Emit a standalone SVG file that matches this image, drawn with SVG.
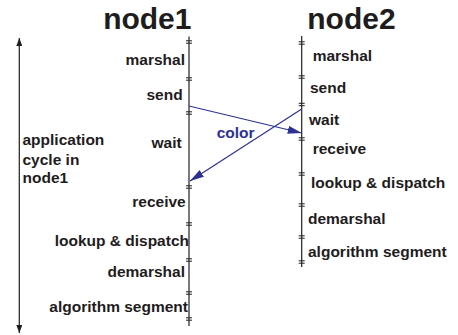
<svg xmlns="http://www.w3.org/2000/svg" width="458" height="335" viewBox="0 0 458 335">
<defs>
<style>
.t{font-family:"Liberation Sans",Arial,Helvetica,sans-serif;font-weight:bold;font-size:15.5px;fill:#1f1c1d}
.h{font-family:"Liberation Sans",Arial,Helvetica,sans-serif;font-weight:bold;font-size:30px;fill:#1f1c1d}
.c{font-family:"Liberation Sans",Arial,Helvetica,sans-serif;font-weight:bold;font-size:15.5px;fill:#2e3192}
.tl{stroke:#231f20;stroke-width:1.2;fill:none}
.tk{stroke:#231f20;stroke-width:1;fill:none}
.msg{stroke:#2e3192;stroke-width:1.2;fill:none;marker-end:url(#ab)}
</style>
<marker id="ab" viewBox="0 0 14 8" refX="14" refY="4" markerWidth="14" markerHeight="8" markerUnits="userSpaceOnUse" orient="auto">
<path d="M0,0 L14,4 L0,8 Z" fill="#2e3192"/>
</marker>
<marker id="ak" viewBox="0 0 8 6" refX="8" refY="3" markerWidth="8" markerHeight="6" markerUnits="userSpaceOnUse" orient="auto">
<path d="M0,0 L8,3 L0,6 Z" fill="#231f20"/>
</marker>
<g id="tick"><path class="tk" d="M-3,-1.2 H3 M-3,1.2 H3"/></g>
</defs>
<rect width="458" height="335" fill="#fff"/>

<g id="cycle">
<line x1="19.3" y1="185" x2="19.3" y2="38" style="stroke:#231f20;stroke-width:1.2;marker-end:url(#ak)"/>
<line x1="19.3" y1="185" x2="19.3" y2="333" style="stroke:#231f20;stroke-width:1.2;marker-end:url(#ak)"/>
<text class="t" x="22.5" y="145">application</text>
<text class="t" x="22.5" y="164.5">cycle in</text>
<text class="t" x="22.5" y="183">node1</text>
</g>

<g id="node1">
<text class="h" x="191.5" y="29.3" text-anchor="end">node1</text>
<line class="tl" x1="189" y1="36.5" x2="189" y2="326"/>
<use href="#tick" x="189" y="42"/>
<use href="#tick" x="189" y="79"/>
<use href="#tick" x="189" y="113"/>
<use href="#tick" x="189" y="187"/>
<use href="#tick" x="189" y="224"/>
<use href="#tick" x="189" y="260"/>
<use href="#tick" x="189" y="293"/>
<use href="#tick" x="189" y="319"/>
<text class="t" x="185" y="65" text-anchor="end">marshal</text>
<text class="t" x="182.7" y="100" text-anchor="end">send</text>
<text class="t" x="181.7" y="148.3" text-anchor="end">wait</text>
<text class="t" x="185.7" y="206.7" text-anchor="end">receive</text>
<text class="t" x="189" y="246" text-anchor="end">lookup &amp; dispatch</text>
<text class="t" x="185" y="276.7" text-anchor="end">demarshal</text>
<text class="t" x="188" y="311.7" text-anchor="end">algorithm segment</text>
</g>

<g id="node2">
<text class="h" x="307.3" y="29.3">node2</text>
<line class="tl" x1="301.7" y1="36" x2="301.7" y2="267"/>
<use href="#tick" x="301.7" y="43"/>
<use href="#tick" x="301.7" y="77"/>
<use href="#tick" x="301.7" y="104.5"/>
<use href="#tick" x="301.7" y="139"/>
<use href="#tick" x="301.7" y="174"/>
<use href="#tick" x="301.7" y="205"/>
<use href="#tick" x="301.7" y="237"/>
<use href="#tick" x="301.7" y="262"/>
<text class="t" x="312.7" y="61">marshal</text>
<text class="t" x="310" y="93">send</text>
<text class="t" x="309" y="125">wait</text>
<text class="t" x="312.7" y="154.3">receive</text>
<text class="t" x="311" y="188">lookup &amp; dispatch</text>
<text class="t" x="308" y="224.3">demarshal</text>
<text class="t" x="308" y="256.7">algorithm segment</text>
</g>

<g id="connectors">
<line class="msg" x1="189" y1="106" x2="301.7" y2="133"/>
<line class="msg" x1="301.7" y1="109" x2="190" y2="181"/>
<text class="c" x="216.7" y="137.7">color</text>
</g>
</svg>
